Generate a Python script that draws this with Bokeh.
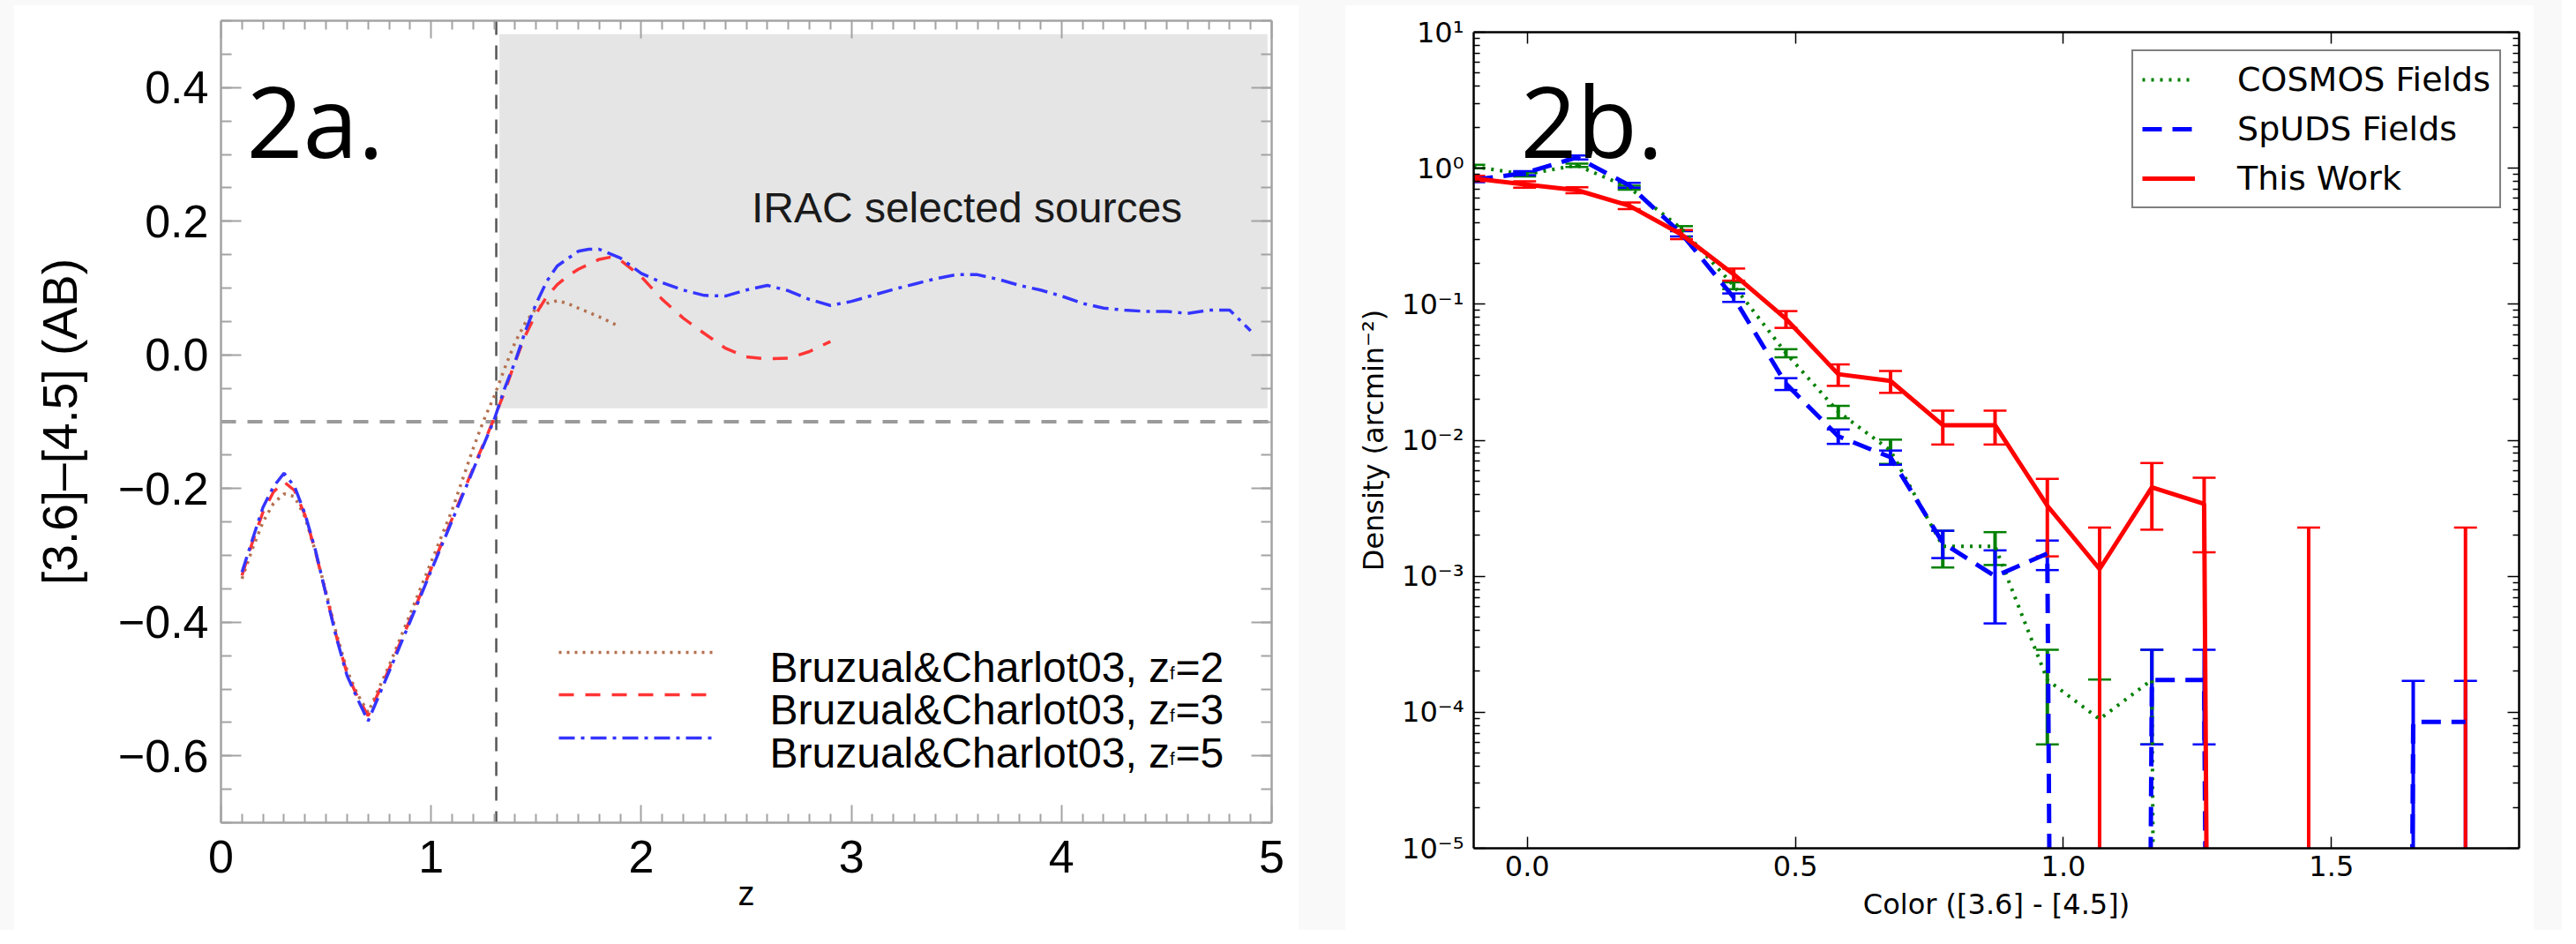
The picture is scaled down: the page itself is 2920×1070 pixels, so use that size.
from bokeh.plotting import figure
from bokeh.models import (Range1d, FixedTicker, LinearAxis, LogAxis, CustomJSTickFormatter,
                          Span, Label, Legend, LegendItem, Whisker, TeeHead, ColumnDataSource, Spacer,
                          CustomLabelingPolicy)
from bokeh.layouts import row, column
from bokeh.embed import file_html
from bokeh.resources import INLINE

# ---------------- Panel 2a data : BC03 [3.6]-[4.5] colour tracks ----------------
zf2_z = [0.1, 0.15, 0.2, 0.25, 0.3, 0.35, 0.4, 0.45, 0.5, 0.55, 0.6, 0.65, 0.7, 0.8, 0.9, 1.0,
         1.1, 1.2, 1.25, 1.3, 1.35, 1.4, 1.45, 1.5, 1.55, 1.6, 1.65, 1.7, 1.8, 1.9]
zf2_c = [-0.335, -0.29, -0.25, -0.222, -0.208, -0.212, -0.243, -0.295, -0.355, -0.418, -0.472,
         -0.508, -0.535, -0.465, -0.388, -0.31, -0.232, -0.14, -0.098, -0.062, -0.02, 0.019,
         0.049, 0.07, 0.077, 0.081, 0.077, 0.07, 0.057, 0.042]

zf3_z = [0.1, 0.15, 0.2, 0.25, 0.3, 0.35, 0.4, 0.45, 0.5, 0.55, 0.6, 0.65, 0.7, 0.8, 0.9, 1.0,
         1.1, 1.2, 1.3, 1.35, 1.4, 1.45, 1.5, 1.55, 1.6, 1.65, 1.7, 1.8, 1.85, 1.9, 2.0, 2.1,
         2.2, 2.3, 2.4, 2.5, 2.6, 2.7, 2.8, 2.9]
zf3_c = [-0.33, -0.28, -0.235, -0.205, -0.19, -0.203, -0.24, -0.295, -0.358, -0.422, -0.477,
         -0.512, -0.54, -0.47, -0.396, -0.32, -0.245, -0.17, -0.095, -0.055, -0.01, 0.03, 0.062,
         0.087, 0.105, 0.118, 0.128, 0.143, 0.146, 0.142, 0.117, 0.083, 0.055, 0.032, 0.01,
         -0.003, -0.006, -0.005, 0.005, 0.02]

zf5_z = [0.1, 0.15, 0.2, 0.25, 0.3, 0.35, 0.4, 0.45, 0.5, 0.55, 0.6, 0.65, 0.7, 0.8, 0.9, 1.0,
         1.1, 1.2, 1.3, 1.35, 1.4, 1.45, 1.5, 1.55, 1.6, 1.7, 1.75, 1.8, 1.9, 2.0, 2.1, 2.2, 2.3,
         2.4, 2.5, 2.6, 2.7, 2.8, 2.9, 3.0, 3.1, 3.2, 3.3, 3.4, 3.5, 3.6, 3.7, 3.8, 3.9, 4.0,
         4.1, 4.2, 4.3, 4.4, 4.5, 4.6, 4.7, 4.8, 4.9]
zf5_c = [-0.325, -0.276, -0.228, -0.197, -0.177, -0.197, -0.238, -0.293, -0.359, -0.424, -0.48,
         -0.515, -0.548, -0.474, -0.399, -0.323, -0.248, -0.172, -0.097, -0.05, -0.01, 0.037,
         0.077, 0.11, 0.133, 0.155, 0.158, 0.158, 0.145, 0.122, 0.108, 0.097, 0.089, 0.088,
         0.097, 0.104, 0.096, 0.083, 0.074, 0.08, 0.089, 0.098, 0.106, 0.114, 0.12, 0.12, 0.113,
         0.104, 0.097, 0.088, 0.077, 0.07, 0.067, 0.065, 0.065, 0.062, 0.067, 0.067, 0.036]

irac_region_z = [1.325, 4.98]
irac_region_c = [-0.08, 0.48]
cut_z = 1.31
cut_c = -0.1
legend_a = ["Bruzual&Charlot03, z", "Bruzual&Charlot03, z", "Bruzual&Charlot03, z"]
legend_a_sub = ["f", "f", "f"]
legend_a_end = ["=2", "=3", "=5"]

# ---------------- Panel 2b data : number densities ----------------
color_bins = [-0.1, -0.005, 0.0925, 0.19, 0.2875, 0.385, 0.4825, 0.58, 0.6775, 0.775, 0.8725,
              0.97, 1.0675, 1.165, 1.2625, 1.36, 1.4575, 1.555, 1.6525, 1.75]
cosmos = [1.03, 0.9, 1.05, 0.72, 0.36, 0.137, 0.0437, 0.0162, 0.0084, 0.00166, 0.00166,
          1.73e-4, 8.9e-5, 1.73e-4, 0, 0, 0, 0, 0, 0]
cosmos_err = [0.03, 0.03, 0.03, 0.025, 0.015, 0.008, 0.003, 0.0017, 0.0017, 0.0005, 0.00045,
              1.15e-4, 8.5e-5, 1.15e-4, 0, 0, 0, 0, 0, 0]
spuds = [0.82, 0.92, 1.2, 0.75, 0.33, 0.112, 0.026, 0.0107, 0.0075, 0.00176, 0.001, 0.00147,
         0, 1.73e-4, 1.73e-4, 0, 0, 0, 8.5e-5, 8.5e-5]
spuds_err = [0.03, 0.03, 0.04, 0.03, 0.015, 0.008, 0.0026, 0.0013, 0.0009, 0.0004, 0.00055,
             0.00036, 0, 1.15e-4, 1.15e-4, 0, 0, 0, 8.5e-5, 8.5e-5]
this_work = [0.84, 0.76, 0.69, 0.53, 0.326, 0.166, 0.078, 0.0306, 0.0273, 0.0129, 0.0129,
             0.0033, 0.00113, 0.0045, 0.0034, 0, 0, 0, 0, 0]
this_work_err = [0.04, 0.04, 0.035, 0.03, 0.025, 0.017, 0.011, 0.0055, 0.005, 0.0036, 0.0036,
                 0.0019, 0.00115, 0.0023, 0.0019, 0, 0.00228, 0, 0, 0.00228]
series_names = ["COSMOS Fields", "SpUDS Fields", "This Work"]

# ---------------- styling constants ----------------
SANS_A = "Liberation Sans"
SANS_B = "DejaVu Sans"
BIG = "Open Sans"
GRAY_A = "#a3a3a3"
BROWN = "#b4704f"
RED_A = "#ff3535"
BLUE_A = "#3535ff"
FLOOR = 1e-60

# pixel -> data helpers (layout only)
A_L, A_R, A_T, A_B = 258, 1449, 31, 940
def ax_(px):
    return (px - A_L) / (A_R - A_L) * 5.0
def ay_(py):
    return 0.5 - (py - A_T) / (A_B - A_T) * 1.2

B_L, B_R, B_T, B_B = 1678, 2863, 44, 969
def bx_(px):
    return -0.1 + (px - B_L) / (B_R - B_L) * 1.95
def by_(py):
    return 10 ** (1 - (py - B_T) / (B_B - B_T) * 6)

def no_labels():
    return CustomLabelingPolicy(code="""
for (const i of Array.from(indices)) {
  if (typeof indices.unset === "function") { indices.unset(i) } else { indices.set(i, false) }
}
return indices
""")

# ================= Figure 2a =================
pa = figure(width=1457, height=1049, x_range=Range1d(0, 5), y_range=Range1d(-0.7, 0.5),
            x_axis_type=None, y_axis_type=None, output_backend="svg", toolbar_location=None,
            min_border_left=235, min_border_right=31, min_border_top=18, min_border_bottom=122)
pa.outline_line_color = None
pa.background_fill_color = "white"
pa.border_fill_color = "white"

x_tick_a = FixedTicker(ticks=[0, 1, 2, 3, 4, 5], minor_ticks=[i / 10 for i in range(51) if i % 10])
y_tick_a = FixedTicker(ticks=[-0.6, -0.4, -0.2, 0.0, 0.2, 0.4],
                       minor_ticks=[round(-0.7 + 0.05 * k, 3) for k in range(25)])

def style_axis_a(axis, major, minor, labels):
    axis.axis_line_color = GRAY_A
    axis.axis_line_width = 2.5
    axis.major_tick_line_color = GRAY_A
    axis.major_tick_line_width = 2
    axis.minor_tick_line_color = GRAY_A
    axis.minor_tick_line_width = 2
    axis.major_tick_in = major
    axis.major_tick_out = 0
    axis.minor_tick_in = minor
    axis.minor_tick_out = 0
    if labels:
        axis.major_label_text_font = SANS_A
        axis.major_label_text_font_size = "52px"
        axis.major_label_text_color = "black"
    else:
        axis.major_label_policy = no_labels()
        axis.major_label_text_font_size = "1px"
        axis.major_label_standoff = 0

fmt_x_a = CustomJSTickFormatter(code="return tick.toFixed(0);")
fmt_y_a = CustomJSTickFormatter(code="return (tick < -1e-9 ? '\u2212' : '') + Math.abs(tick).toFixed(1);")

xa_b = LinearAxis(ticker=x_tick_a, formatter=fmt_x_a, axis_label="z")
style_axis_a(xa_b, 20, 10, True)
xa_b.major_label_standoff = 20
xa_b.axis_label_text_font = SANS_A
xa_b.axis_label_text_font_size = "38px"
xa_b.axis_label_text_font_style = "normal"
xa_b.axis_label_text_color = "black"
xa_b.axis_label_standoff = 0
pa.add_layout(xa_b, "below")
xa_t = LinearAxis(ticker=x_tick_a, formatter=fmt_x_a)
style_axis_a(xa_t, 20, 10, False)
pa.add_layout(xa_t, "above")

ya_l = LinearAxis(ticker=y_tick_a, formatter=fmt_y_a, axis_label="[3.6]\u2013[4.5] (AB)")
style_axis_a(ya_l, 23, 12, True)
ya_l.major_label_standoff = 14
ya_l.axis_label_text_font = SANS_A
ya_l.axis_label_text_font_size = "55px"
ya_l.axis_label_text_font_style = "normal"
ya_l.axis_label_text_color = "black"
ya_l.axis_label_standoff = 32
pa.add_layout(ya_l, "left")
ya_r = LinearAxis(ticker=y_tick_a, formatter=fmt_y_a)
style_axis_a(ya_r, 23, 12, False)
pa.add_layout(ya_r, "right")

# shaded region & cut lines
pa.quad(left=[irac_region_z[0]], right=[irac_region_z[1]], bottom=[irac_region_c[0]],
        top=[irac_region_c[1]], fill_color="#e5e5e5", line_color=None)
pa.add_layout(Span(location=cut_c, dimension="width", line_color="#9a9a9a", line_width=4,
                   line_dash="17 13", level="underlay"))
pa.add_layout(Span(location=cut_z, dimension="height", line_color="#555555", line_width=2.5,
                   line_dash="16 12", level="underlay"))

styles_a = [(BROWN, "3 6"), (RED_A, "17 13"), (BLUE_A, "18 7 4 7")]
tracks = [(zf2_z, zf2_c), (zf3_z, zf3_c), (zf5_z, zf5_c)]
for (zz, cc), (col, dash) in zip(tracks, styles_a):
    pa.line(zz, cc, line_color=col, line_width=3.5, line_dash=dash)

pa.add_layout(Label(x=ax_(1103.5), y=ay_(243), text="IRAC selected sources", text_font=SANS_A,
                    text_font_size="48px", text_align="center", text_baseline="middle",
                    text_color="#1a1a1a"))
pa.add_layout(Label(x=ax_(287), y=ay_(143), text="2a.", text_font=BIG, text_font_size="112px",
                    text_align="left", text_baseline="alphabetic", text_color="black"))

# hand-made legend (to allow the subscript f)
ARIAL = {'B': 667, 'r': 333, 'u': 556, 'z': 500, 'a': 556, 'l': 222, '&': 667, 'C': 722,
         'h': 556, 'o': 556, 't': 278, '0': 556, '3': 556, ',': 278, ' ': 278, 'f': 278}
LEG_FS = 48
SUB_FS = 20
row_y = [747, 795, 844]
for i, (col, dash) in enumerate(styles_a):
    yy = ay_(row_y[i])
    pa.line([ax_(641), ax_(818)], [yy, yy], line_color=col, line_width=3.5, line_dash=dash)
    base = ay_(row_y[i] + 17)
    w_main = sum(ARIAL[c] for c in legend_a[i]) / 1000 * LEG_FS
    w_sub = ARIAL['f'] / 1000 * SUB_FS + 1
    pa.add_layout(Label(x=ax_(880), y=base, text=legend_a[i], text_font=SANS_A,
                        text_font_size=f"{LEG_FS}px", text_baseline="alphabetic", text_color="black"))
    pa.add_layout(Label(x=ax_(880), y=base, x_offset=w_main, y_offset=-6, text=legend_a_sub[i],
                        text_font=SANS_A, text_font_size=f"{SUB_FS}px", text_baseline="alphabetic",
                        text_color="black"))
    pa.add_layout(Label(x=ax_(880), y=base, x_offset=w_main + w_sub, text=legend_a_end[i],
                        text_font=SANS_A, text_font_size=f"{LEG_FS}px", text_baseline="alphabetic",
                        text_color="black"))

# ================= Figure 2b =================
pb = figure(width=1348, height=1049, x_range=Range1d(-0.1, 1.85), y_range=Range1d(1e-5, 10),
            y_axis_type="log", output_backend="svg", toolbar_location=None,
            min_border_left=146, min_border_right=17, min_border_top=31, min_border_bottom=93)
pb.xgrid.visible = False
pb.ygrid.visible = False
pb.outline_line_color = None
pb.background_fill_color = "white"
pb.border_fill_color = "white"

y_tick_b = FixedTicker(ticks=[10.0 ** e for e in range(-5, 2)],
                       minor_ticks=[m * 10.0 ** e for e in range(-5, 1) for m in range(2, 10)])
x_tick_b = FixedTicker(ticks=[0.0, 0.5, 1.0, 1.5], minor_ticks=[])
log_fmt = CustomJSTickFormatter(code="""
const e = Math.round(Math.log10(tick));
const m = {"-": "\u207b", "0": "\u2070", "1": "\u00b9", "2": "\u00b2", "3": "\u00b3", "4": "\u2074",
           "5": "\u2075", "6": "\u2076", "7": "\u2077", "8": "\u2078", "9": "\u2079"};
return "10" + String(e).split("").map(c => m[c]).join("");
""")
lin_fmt = CustomJSTickFormatter(code="return tick.toFixed(1);")

def style_axis_b(axis, labels):
    axis.axis_line_color = "black"
    axis.axis_line_width = 2.5
    axis.major_tick_line_color = "black"
    axis.major_tick_line_width = 1.5
    axis.minor_tick_line_color = "black"
    axis.minor_tick_line_width = 1.5
    axis.major_tick_in = 13
    axis.major_tick_out = 0
    axis.minor_tick_in = 7
    axis.minor_tick_out = 0
    if labels:
        axis.major_label_text_font = SANS_B
        axis.major_label_text_font_size = "32px"
        axis.major_label_text_color = "black"
        axis.axis_label_text_font = SANS_B
        axis.axis_label_text_font_size = "32px"
        axis.axis_label_text_font_style = "normal"
        axis.axis_label_text_color = "black"
    else:
        axis.major_label_policy = no_labels()
        axis.major_label_text_font_size = "1px"
        axis.major_label_standoff = 0

xb = pb.xaxis[0]
xb.ticker = x_tick_b
xb.formatter = lin_fmt
xb.axis_label = "Color ([3.6] - [4.5])"
style_axis_b(xb, True)
xb.major_label_standoff = 8
xb.axis_label_standoff = 10

yb = pb.yaxis[0]
yb.ticker = y_tick_b
yb.formatter = log_fmt
yb.axis_label = "Density (arcmin\u207b\u00b2)"
style_axis_b(yb, True)
yb.major_label_standoff = 11
yb.axis_label_standoff = 10

xb_t = LinearAxis(ticker=x_tick_b, formatter=lin_fmt)
style_axis_b(xb_t, False)
pb.add_layout(xb_t, "above")
yb_r = LogAxis(ticker=y_tick_b, formatter=log_fmt)
style_axis_b(yb_r, False)
pb.add_layout(yb_r, "right")

def shown(vals):
    return [v if v > 0 else FLOOR for v in vals]

series = [(cosmos, cosmos_err, "#008000", "3 7", 4), (spuds, spuds_err, "#0000ff", "22 12", 5),
          (this_work, this_work_err, "#ff0000", "solid", 5)]
renderers = []
for vals, errs, col, dash, lw in series:
    bx_l, up_l, lo_l = [], [], []
    for xv, v, e in zip(color_bins, vals, errs):
        if e > 0:
            bx_l.append(xv)
            up_l.append(v + e)
            lo_l.append(max(v - e, FLOOR))
    src = ColumnDataSource(dict(x=bx_l, up=up_l, lo=lo_l))
    pb.add_layout(Whisker(source=src, base="x", upper="up", lower="lo", dimension="height",
                          line_color=col, line_width=4,
                          upper_head=TeeHead(size=26, line_color=col, line_width=2.5),
                          lower_head=TeeHead(size=26, line_color=col, line_width=2.5)))
    r = pb.line(color_bins, shown(vals), line_color=col, line_width=lw, line_dash=dash)
    renderers.append(r)

legend = Legend(items=[LegendItem(label=n, renderers=[r]) for n, r in zip(series_names, renderers)],
                location="top_right", margin=20, padding=10, spacing=12, glyph_width=60,
                glyph_height=40, label_standoff=48, label_text_font=SANS_B,
                label_text_font_size="38px", label_text_color="black",
                border_line_color="black", border_line_width=2.5, background_fill_color="white",
                background_fill_alpha=1.0)
pb.add_layout(legend)

pb.add_layout(Label(x=bx_(1731), y=by_(143), text="2b.", text_font=BIG, text_font_size="112px",
                    text_align="left", text_baseline="alphabetic", text_color="black"))

layout = row(Spacer(width=15, height=1054),
             column(Spacer(width=1457, height=5), pa),
             Spacer(width=52, height=1054),
             column(Spacer(width=1348, height=5), pb),
             Spacer(width=32, height=1054),
             styles={"background-color": "#f9f9f9"})

open("out.html", "w").write(file_html(layout, INLINE))
